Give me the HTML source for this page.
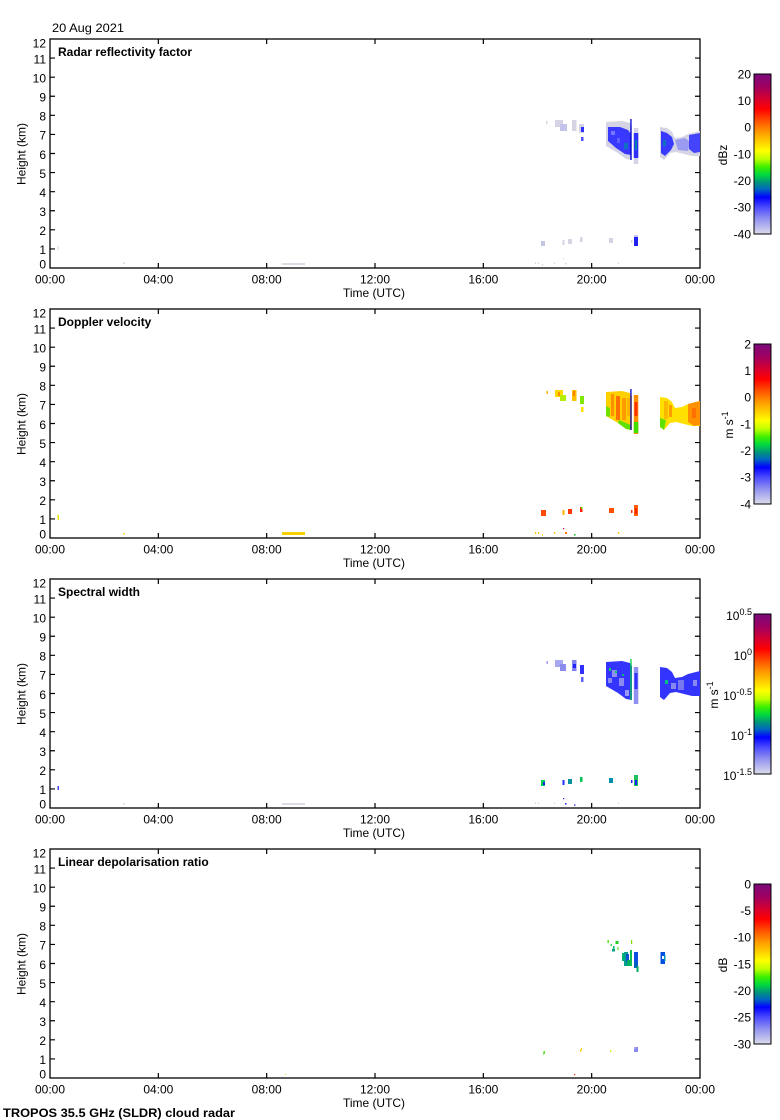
<!DOCTYPE html>
<html><head><meta charset="utf-8"><style>
html,body{margin:0;padding:0;background:#fff;}
svg{display:block;}
text{font-family:"Liberation Sans",Arial,sans-serif;font-size:12px;fill:#000;}
.b{font-weight:bold;}
</style></head><body>
<svg width="780" height="1120" viewBox="0 0 780 1120" xmlns="http://www.w3.org/2000/svg">
<defs>
<linearGradient id="cb" x1="0" y1="0" x2="0" y2="1">
<stop offset="0" stop-color="#7a0a7a"/>
<stop offset="0.08" stop-color="#a00060"/>
<stop offset="0.17" stop-color="#e00025"/>
<stop offset="0.22" stop-color="#ff0000"/>
<stop offset="0.30" stop-color="#ff5a00"/>
<stop offset="0.37" stop-color="#ffa000"/>
<stop offset="0.43" stop-color="#ffd400"/>
<stop offset="0.48" stop-color="#ffff00"/>
<stop offset="0.53" stop-color="#c0ff00"/>
<stop offset="0.58" stop-color="#40f000"/>
<stop offset="0.63" stop-color="#00d840"/>
<stop offset="0.68" stop-color="#009080"/>
<stop offset="0.72" stop-color="#0068c0"/>
<stop offset="0.77" stop-color="#0000ff"/>
<stop offset="0.83" stop-color="#4848ff"/>
<stop offset="0.90" stop-color="#8c8cf0"/>
<stop offset="1" stop-color="#dcdcec"/>
</linearGradient>
<g id="frame">
<rect x="50" y="39" width="650" height="229" fill="none" stroke="#000" stroke-width="1.3"/>
<path stroke="#000" stroke-width="1.2" fill="none" d="M50,248.92h5M50,229.83h5M50,210.75h5M50,191.67h5M50,172.58h5M50,153.5h5M50,134.42h5M50,115.33h5M50,96.25h5M50,77.17h5M50,58.08h5
M700,248.92h-5M700,229.83h-5M700,210.75h-5M700,191.67h-5M700,172.58h-5M700,153.5h-5M700,134.42h-5M700,115.33h-5M700,96.25h-5M700,77.17h-5M700,58.08h-5
M158.33,268v-5M266.67,268v-5M375,268v-5M483.33,268v-5M591.67,268v-5
M158.33,39v5M266.67,39v5M375,39v5M483.33,39v5M591.67,39v5"/>
<rect x="754" y="74" width="17" height="160" fill="url(#cb)" stroke="#000" stroke-width="1"/>
</g>
</defs>

<text x="52" y="32" textLength="72" lengthAdjust="spacingAndGlyphs">20 Aug 2021</text>

<!-- ===== PANEL 1 ===== -->
<g>
<use href="#frame"/>
<text class="b" x="58" y="56">Radar reflectivity factor</text>
<g text-anchor="end">
<text x="46" y="47.3">12</text><text x="46" y="63.4">11</text><text x="46" y="82.5">10</text><text x="46" y="101.6">9</text><text x="46" y="120.6">8</text><text x="46" y="139.7">7</text><text x="46" y="158.8">6</text><text x="46" y="177.9">5</text><text x="46" y="197">4</text><text x="46" y="216">3</text><text x="46" y="235.1">2</text><text x="46" y="254.2">1</text><text x="46" y="268.7">0</text>
</g>
<g text-anchor="middle">
<text x="50" y="283.6">00:00</text><text x="158.33" y="283.6">04:00</text><text x="266.67" y="283.6">08:00</text><text x="375" y="283.6">12:00</text><text x="483.33" y="283.6">16:00</text><text x="591.67" y="283.6">20:00</text><text x="700" y="283.6">00:00</text>
<text x="374" y="297" textLength="62" lengthAdjust="spacingAndGlyphs">Time (UTC)</text>
<text transform="translate(25.5,154) rotate(-90)">Height (km)</text>
<text transform="translate(727,155) rotate(-90)">dBz</text>
</g>
<g text-anchor="end">
<text x="751" y="78.3">20</text><text x="751" y="105">10</text><text x="751" y="131.6">0</text><text x="751" y="158.3">-10</text><text x="751" y="185">-20</text><text x="751" y="211.6">-30</text><text x="751" y="238.3">-40</text>
</g>
<!-- data -->
<g>
<rect x="57.5" y="246" width="1" height="4" fill="#d0d0dc"/>
<rect x="123" y="262.5" width="1.5" height="1.5" fill="#d0d0dc"/>
<rect x="282" y="263" width="23" height="2" fill="#dcdce4"/>
<rect x="546" y="121" width="1.5" height="3" fill="#d4d4e4"/>
<rect x="555" y="120" width="8" height="7" fill="#d4d4e4"/>
<rect x="560" y="124" width="7" height="7" fill="#c4c4ea"/>
<rect x="572" y="120" width="4.5" height="11" fill="#d4d4e4"/>
<rect x="579" y="124" width="5" height="9" fill="#d4d4e4"/>
<rect x="581" y="127" width="3" height="5" fill="#3030ff"/>
<rect x="581" y="137" width="2.5" height="4" fill="#5050ff"/>
<polygon fill="#d4d4e4" points="606,122 622,121 630,123 632,126 632,160 626,159 618,153 606,146"/>
<polygon fill="#3838ff" points="608,127 620,127 628,130 631,134 631,155 625,154 616,148 608,141"/>
<rect x="611" y="131" width="4" height="4" fill="#7878ff"/>
<rect x="617" y="138" width="3" height="5" fill="#6060ff"/>
<rect x="624" y="143" width="4" height="6" fill="#1070c0"/>
<rect x="630.3" y="119" width="1.3" height="41" fill="#0000d0"/>
<rect x="633.8" y="128" width="4.5" height="36" fill="#d4d4e4"/>
<rect x="633.8" y="133" width="4.5" height="25" fill="#3030ff"/>
<rect x="635" y="140" width="2" height="10" fill="#0080b0"/>
<polygon fill="#d4d4e4" points="660,127 667,128 672,132 675,138 682,137 688,134 700,131 700,156 692,156 684,154 676,152 670,153 664,160 660,157"/>
<polygon fill="#3838ff" points="661,131 667,133 672,137 674,144 671,150 665,156 661,153"/>
<rect x="663" y="140" width="3" height="6" fill="#1070c0"/>
<polygon fill="#9a9af0" points="675,140 685,138 690,142 688,151 678,150"/>
<polygon fill="#4444ff" points="689,135 700,133 700,152 694,153 689,149"/>
<rect x="541" y="241" width="4" height="5" fill="#c4c4e4"/>
<rect x="562.5" y="240" width="2" height="5" fill="#d4d4e4"/>
<rect x="568" y="239" width="4" height="5" fill="#d4d4e4"/>
<rect x="580" y="237" width="2.5" height="5" fill="#d4d4e4"/>
<rect x="609" y="238" width="4" height="5" fill="#d4d4e4"/>
<rect x="631" y="240" width="1.5" height="3" fill="#d4d4e4"/>
<rect x="634" y="235" width="4" height="3" fill="#c4c4ec"/>
<rect x="634" y="237" width="4" height="9" fill="#2020f0"/>
<g fill="#d0d0dc"><rect x="535" y="262.5" width="1" height="1.5"/><rect x="538" y="262.5" width="1" height="1.5"/><rect x="542" y="264" width="1" height="1.5"/><rect x="554" y="262.5" width="1" height="1.5"/><rect x="565" y="263" width="1.5" height="1.5"/><rect x="618" y="262.5" width="1" height="1.5"/><rect x="563" y="258" width="1" height="1"/></g>
</g>
</g>

<!-- ===== PANEL 2 ===== -->
<g transform="translate(0,270)">
<use href="#frame"/>
<text class="b" x="58" y="56">Doppler velocity</text>
<g text-anchor="end">
<text x="46" y="47.3">12</text><text x="46" y="63.4">11</text><text x="46" y="82.5">10</text><text x="46" y="101.6">9</text><text x="46" y="120.6">8</text><text x="46" y="139.7">7</text><text x="46" y="158.8">6</text><text x="46" y="177.9">5</text><text x="46" y="197">4</text><text x="46" y="216">3</text><text x="46" y="235.1">2</text><text x="46" y="254.2">1</text><text x="46" y="268.7">0</text>
</g>
<g text-anchor="middle">
<text x="50" y="283.6">00:00</text><text x="158.33" y="283.6">04:00</text><text x="266.67" y="283.6">08:00</text><text x="375" y="283.6">12:00</text><text x="483.33" y="283.6">16:00</text><text x="591.67" y="283.6">20:00</text><text x="700" y="283.6">00:00</text>
<text x="374" y="297" textLength="62" lengthAdjust="spacingAndGlyphs">Time (UTC)</text>
<text transform="translate(25.5,154) rotate(-90)">Height (km)</text>
<text transform="translate(733,155) rotate(-90)">m s<tspan font-size="9" dy="-5">-1</tspan></text>
</g>
<g text-anchor="end">
<text x="751" y="78.3">2</text><text x="751" y="105">1</text><text x="751" y="131.6">0</text><text x="751" y="158.3">-1</text><text x="751" y="185">-2</text><text x="751" y="211.6">-3</text><text x="751" y="238.3">-4</text>
</g>
<g>
<rect x="57.5" y="245" width="1.5" height="5" fill="#f0e000"/>
<rect x="123" y="263" width="1.5" height="1.5" fill="#f0d000"/>
<rect x="282" y="262" width="23" height="3" fill="#f8d000"/>
<rect x="546.5" y="121" width="1.5" height="3" fill="#ffb000"/>
<rect x="555" y="120" width="8" height="7" fill="#ffd800"/>
<rect x="558" y="122" width="2" height="4" fill="#ff9000"/>
<rect x="560" y="125" width="6" height="6" fill="#b0f000"/>
<rect x="572" y="120" width="4.5" height="11" fill="#ffc000"/>
<rect x="573" y="121" width="2" height="5" fill="#ff8000"/>
<rect x="580" y="126" width="4" height="8" fill="#80e800"/>
<rect x="581" y="137" width="2.5" height="5" fill="#ffe000"/>
<polygon fill="#ffd000" points="606,122 622,121 630,123 632,126 632,160 626,159 618,153 606,146"/>
<rect x="611" y="124" width="3" height="22" fill="#ff9000"/>
<rect x="616" y="126" width="4" height="24" fill="#ff7000"/>
<rect x="622" y="128" width="4" height="22" fill="#ff9a00"/>
<rect x="627" y="128" width="3" height="18" fill="#ffb000"/>
<polygon fill="#70e000" points="606,136 610,138 610,147 606,146"/>
<polygon fill="#60e000" points="619,150 626,153 631,155 631,160 626,159 618,153"/>
<rect x="630.3" y="119" width="1.3" height="41" fill="#0000d0"/>
<rect x="633.8" y="125" width="4.5" height="39" fill="#ff9000"/>
<rect x="634.5" y="132" width="3" height="14" fill="#ff3000"/>
<rect x="633.8" y="152" width="4.5" height="11" fill="#40e000"/>
<polygon fill="#ffe000" points="660,127 667,128 672,132 675,138 682,137 688,134 700,131 700,156 692,156 684,154 676,152 670,153 664,160 660,157"/>
<rect x="664" y="131" width="4" height="18" fill="#ffb800"/>
<rect x="669" y="135" width="3" height="12" fill="#ff9c00"/>
<polygon fill="#60e000" points="660,148 666,150 664,160 660,157"/>
<polygon fill="#ff9000" points="688,134 700,131 700,155 694,156 688,152"/>
<rect x="692" y="138" width="4" height="10" fill="#ff7000"/>
<rect x="541" y="240" width="5" height="6" fill="#ff4800"/>
<rect x="562.5" y="240" width="2" height="5" fill="#ffb000"/>
<rect x="568" y="239" width="4" height="5" fill="#ff3800"/>
<rect x="580" y="237" width="2.5" height="5" fill="#ff2000"/>
<rect x="581" y="237" width="1.5" height="2" fill="#60e000"/>
<rect x="609" y="238" width="5" height="5" fill="#ff5000"/>
<rect x="631" y="240" width="1.5" height="3" fill="#ff3000"/>
<rect x="634" y="235" width="4" height="11" fill="#ff6000"/>
<rect x="635" y="238" width="2" height="6" fill="#ff2000"/>
<rect x="535" y="262" width="1.2" height="2" fill="#ffc000"/><rect x="538" y="262" width="1.2" height="2" fill="#ffc000"/><rect x="542" y="264" width="1" height="1.5" fill="#ffc000"/><rect x="554" y="262" width="1.2" height="2" fill="#ffc000"/><rect x="565" y="262" width="2" height="2" fill="#ff7000"/><rect x="574" y="264" width="1.5" height="1.5" fill="#00d000"/><rect x="618" y="262" width="1.2" height="2" fill="#ffc000"/><rect x="563" y="258" width="1.2" height="1.2" fill="#e00040"/>
</g>
</g>

<!-- ===== PANEL 3 ===== -->
<g transform="translate(0,540)">
<use href="#frame"/>
<text class="b" x="58" y="56">Spectral width</text>
<g text-anchor="end">
<text x="46" y="47.3">12</text><text x="46" y="63.4">11</text><text x="46" y="82.5">10</text><text x="46" y="101.6">9</text><text x="46" y="120.6">8</text><text x="46" y="139.7">7</text><text x="46" y="158.8">6</text><text x="46" y="177.9">5</text><text x="46" y="197">4</text><text x="46" y="216">3</text><text x="46" y="235.1">2</text><text x="46" y="254.2">1</text><text x="46" y="268.7">0</text>
</g>
<g text-anchor="middle">
<text x="50" y="283.6">00:00</text><text x="158.33" y="283.6">04:00</text><text x="266.67" y="283.6">08:00</text><text x="375" y="283.6">12:00</text><text x="483.33" y="283.6">16:00</text><text x="591.67" y="283.6">20:00</text><text x="700" y="283.6">00:00</text>
<text x="374" y="297" textLength="62" lengthAdjust="spacingAndGlyphs">Time (UTC)</text>
<text transform="translate(25.5,154) rotate(-90)">Height (km)</text>
<text transform="translate(718,155) rotate(-90)">m s<tspan font-size="9" dy="-5">-1</tspan></text>
</g>
<g text-anchor="end">
<text x="752" y="80">10<tspan font-size="9" dy="-5">0.5</tspan></text>
<text x="752" y="120">10<tspan font-size="9" dy="-5">0</tspan></text>
<text x="752" y="160">10<tspan font-size="9" dy="-5">-0.5</tspan></text>
<text x="752" y="200">10<tspan font-size="9" dy="-5">-1</tspan></text>
<text x="752" y="240">10<tspan font-size="9" dy="-5">-1.5</tspan></text>
</g>
<g>
<rect x="57.5" y="246" width="1.5" height="4" fill="#4040ff"/>
<rect x="123" y="263" width="1.5" height="1.5" fill="#d0d0dc"/>
<rect x="282" y="263" width="23" height="2" fill="#dcdce4"/>
<rect x="546.5" y="121" width="1.5" height="3" fill="#a0a0f0"/>
<rect x="555" y="120" width="8" height="7" fill="#a8a8f0"/>
<rect x="560" y="124" width="6" height="7" fill="#8c8cf0"/>
<rect x="572" y="120" width="4.5" height="11" fill="#8080f0"/>
<rect x="573" y="124" width="3" height="4" fill="#2020ff"/>
<rect x="580" y="125" width="4" height="9" fill="#3030ff"/>
<rect x="581" y="137" width="2.5" height="5" fill="#6060ff"/>
<polygon fill="#3434ff" points="606,122 622,121 630,123 632,126 632,160 626,159 618,153 606,146"/>
<rect x="612" y="130" width="5" height="7" fill="#9090f0"/>
<rect x="619" y="138" width="5" height="8" fill="#8a8af0"/>
<rect x="608" y="138" width="4" height="5" fill="#8888f0"/>
<rect x="625" y="150" width="4" height="6" fill="#9898f0"/>
<rect x="609" y="128" width="2" height="3" fill="#00d060"/>
<rect x="615" y="131" width="2" height="2" fill="#00d060"/>
<rect x="622" y="134" width="2" height="2" fill="#00c080"/>
<rect x="630.3" y="119" width="1.3" height="41" fill="#00d040"/>
<rect x="633.8" y="127" width="4.5" height="37" fill="#9090f0"/>
<rect x="634.5" y="133" width="3" height="16" fill="#3030ff"/>
<polygon fill="#3434ff" points="660,127 667,128 672,132 675,138 682,137 688,134 700,131 700,156 692,156 684,154 676,152 670,153 664,160 660,157"/>
<rect x="665" y="140" width="3" height="4" fill="#00c080"/>
<rect x="671" y="143" width="5" height="6" fill="#8888f0"/>
<rect x="678" y="140" width="6" height="10" fill="#7878f0"/>
<rect x="693" y="140" width="4" height="6" fill="#8888f0"/>
<rect x="541" y="240" width="4" height="6" fill="#00d050"/>
<rect x="543" y="242" width="2" height="3" fill="#2020ff"/>
<rect x="562.5" y="240" width="2" height="5" fill="#2030ff"/>
<rect x="568" y="239" width="4" height="5" fill="#0090a0"/>
<rect x="580" y="237" width="2.5" height="5" fill="#00c050"/>
<rect x="609" y="238" width="4" height="5" fill="#0090b0"/>
<rect x="631" y="240" width="1.5" height="3" fill="#2020ff"/>
<rect x="634" y="235" width="4" height="11" fill="#20c060"/>
<rect x="635" y="240" width="2" height="5" fill="#2020ff"/>
<rect x="535" y="262.5" width="1" height="1.5" fill="#d0d0dc"/><rect x="538" y="262.5" width="1" height="1.5" fill="#d0d0dc"/><rect x="554" y="262.5" width="1" height="1.5" fill="#d0d0dc"/><rect x="618" y="262.5" width="1" height="1.5" fill="#d0d0dc"/><rect x="563" y="258" width="1.2" height="1.2" fill="#2020ff"/><rect x="565" y="263" width="1.5" height="1.5" fill="#2020ff"/><rect x="574" y="264.5" width="1.5" height="1.2" fill="#2020ff"/>
</g>
</g>

<!-- ===== PANEL 4 ===== -->
<g transform="translate(0,810)">
<use href="#frame"/>
<text class="b" x="58" y="56">Linear depolarisation ratio</text>
<g text-anchor="end">
<text x="46" y="47.3">12</text><text x="46" y="63.4">11</text><text x="46" y="82.5">10</text><text x="46" y="101.6">9</text><text x="46" y="120.6">8</text><text x="46" y="139.7">7</text><text x="46" y="158.8">6</text><text x="46" y="177.9">5</text><text x="46" y="197">4</text><text x="46" y="216">3</text><text x="46" y="235.1">2</text><text x="46" y="254.2">1</text><text x="46" y="268.7">0</text>
</g>
<g text-anchor="middle">
<text x="50" y="283.6">00:00</text><text x="158.33" y="283.6">04:00</text><text x="266.67" y="283.6">08:00</text><text x="375" y="283.6">12:00</text><text x="483.33" y="283.6">16:00</text><text x="591.67" y="283.6">20:00</text><text x="700" y="283.6">00:00</text>
<text x="374" y="297" textLength="62" lengthAdjust="spacingAndGlyphs">Time (UTC)</text>
<text transform="translate(25.5,154) rotate(-90)">Height (km)</text>
<text transform="translate(727,155) rotate(-90)">dB</text>
</g>
<g text-anchor="end">
<text x="751" y="78.3">0</text><text x="751" y="105">-5</text><text x="751" y="131.6">-10</text><text x="751" y="158.3">-15</text><text x="751" y="185">-20</text><text x="751" y="211.6">-25</text><text x="751" y="238.3">-30</text>
</g>
<g>
<rect x="285" y="264" width="1" height="1" fill="#f0d000"/>
<rect x="607.5" y="130" width="1.3" height="3" fill="#40e000"/>
<rect x="610.5" y="134" width="1.3" height="2" fill="#20d040"/>
<rect x="613" y="136" width="1.5" height="5" fill="#00c060"/>
<rect x="612" y="139" width="3" height="2.5" fill="#00a080"/>
<rect x="615.5" y="131" width="3" height="3" fill="#20d020"/>
<rect x="617.5" y="137" width="1" height="3" fill="#30e000"/>
<rect x="631" y="130" width="1.2" height="4" fill="#80e000"/>
<rect x="622" y="143" width="5" height="8" fill="#00b070"/>
<rect x="624" y="142" width="4" height="14" fill="#00a090"/>
<rect x="626" y="144" width="3" height="8" fill="#1050d0"/>
<rect x="627" y="150" width="3" height="6" fill="#00b060"/>
<rect x="630" y="140" width="2" height="16" fill="#10c050"/>
<rect x="634" y="142" width="4" height="14" fill="#1050e0"/>
<rect x="634" y="152" width="3" height="6" fill="#0060c0"/>
<rect x="636.5" y="156" width="2" height="6" fill="#00b060"/>
<rect x="660.5" y="142" width="4.5" height="12" fill="#0050e0"/>
<rect x="662" y="146" width="2" height="3" fill="#ffffff"/>
<rect x="664" y="145" width="1.5" height="6" fill="#0090c0"/>
<rect x="543.5" y="241" width="1.3" height="3" fill="#40e000"/>
<rect x="543" y="243.5" width="1" height="1" fill="#40e000"/>
<rect x="580" y="239.5" width="1.5" height="2" fill="#ffc000"/>
<rect x="581" y="238" width="1" height="1.5" fill="#ffd000"/>
<rect x="610" y="240" width="1.2" height="2" fill="#c0f000"/>
<rect x="634" y="237" width="4" height="5" fill="#8a8af0"/>
<rect x="634" y="237" width="1.5" height="2" fill="#b0b0f0"/>
<rect x="574" y="264" width="1.2" height="1.2" fill="#ff2000"/>
</g>
</g>

<text class="b" x="3" y="1117" textLength="232" lengthAdjust="spacingAndGlyphs">TROPOS 35.5 GHz (SLDR) cloud radar</text>
</svg>
</body></html>
